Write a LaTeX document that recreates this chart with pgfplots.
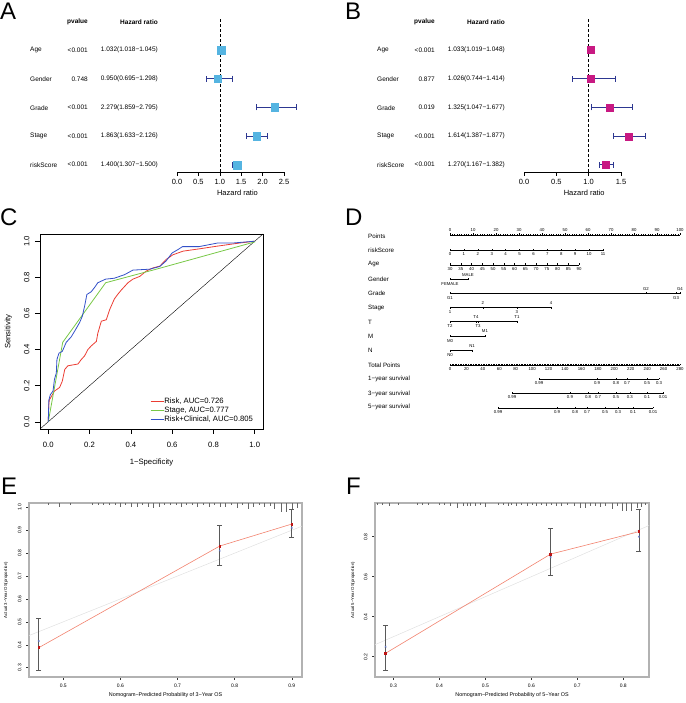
\documentclass[border=0pt]{standalone}
\usepackage{fontspec}
\setmainfont{Liberation Sans}
\usepackage{pgfplots}
\pgfplotsset{compat=1.18}

\definecolor{hrblue}{RGB}{85,180,225}
\definecolor{navy}{RGB}{45,55,145}
\definecolor{hrmag}{RGB}{200,25,130}
\definecolor{rocred}{RGB}{235,60,50}
\definecolor{rocgreen}{RGB}{120,200,70}
\definecolor{rocblue}{RGB}{50,80,200}
\definecolor{calred}{RGB}{242,130,110}
\definecolor{ptred}{RGB}{190,20,20}
\definecolor{ptblue}{RGB}{100,120,200}

\newcommand{\fs}[1]{\fontsize{#1}{#1}\selectfont}
\tikzset{numfmt/.style={/pgf/number format/.cd, fixed, fixed zerofill, precision=1, assume math mode=true, /tikz/.cd}}

\pgfplotsset{
  forest/.style={scale only axis, anchor=south west, clip=false, height=154pt, ymin=0.757, ymax=6.11,
    axis x line*=bottom, hide y axis, x axis line style={-, line width=0.5pt},
    tick align=outside, major tick length=4pt, tick style={black, line width=0.5pt},
    xticklabel style={font=\fs{7.5}, numfmt}, xlabel style={font=\fs{7.5}, anchor=center, yshift=-21pt}},
  nomo/.style={scale only axis, anchor=south west, height=1pt, ymin=0, ymax=1, hide y axis,
    axis x line*=bottom, x axis line style={-, line width=0.4pt}, tick align=inside,
    major tick length=1.6pt, minor tick length=0.9pt, tick style={black, line width=0.3pt},
    xticklabel style={font=\fs{4.3}, inner sep=0.6pt, yshift=-1.5pt, /pgf/number format/assume math mode=true}},
  calib/.style={scale only axis, anchor=south west, tick align=outside, xtick pos=bottom, ytick pos=left,
    major tick length=3pt, tick style={black!80, line width=0.4pt}, axis line style={black!30, line width=1.1pt},
    ticklabel style={font=\fs{5}, numfmt}, yticklabel style={xshift=-1pt, rotate=90, anchor=south},
    xlabel style={font=\fs{5.4}, anchor=center}, ylabel style={font=\fs{4.3}, anchor=center}},
  rug/.style={draw=none, mark=none, forget plot, error bars/.cd, y dir=minus, y explicit, error mark=none,
    error bar style={draw=black!60, line width=0.4pt}},
  obs/.style={calred, line width=0.6pt, mark=square*, mark size=0.9pt, mark options={ptred},
    error bars/.cd, y dir=both, y explicit, error mark=|,
    error bar style={draw=black!65, line width=0.6pt}, error mark options={draw=black!65, line width=0.6pt, mark size=2.5pt}},
}

\begin{document}
\begin{tikzpicture}
\path[use as bounding box] (0pt,0pt) rectangle (685pt,703pt);

% ---------------- A ----------------
\node[anchor=base west, font=\fs{24}, inner sep=0pt] at (0pt,683pt) {A};
\begin{scope}[every node/.style={font=\fs{6.5}, inner sep=0pt}]
\node[anchor=east, font=\fs{6.5}\bfseries] at (88pt,681pt) {pvalue};
\node[anchor=east, font=\fs{6.5}\bfseries] at (158pt,681pt) {Hazard ratio};
\node[anchor=west] at (30pt,653pt) {Age};       \node[anchor=east] at (88pt,653pt) {<0.001}; \node[anchor=east] at (158pt,653pt) {1.032(1.018−1.045)};
\node[anchor=west] at (30pt,624pt) {Gender};    \node[anchor=east] at (88pt,624pt) {0.748};  \node[anchor=east] at (158pt,624pt) {0.950(0.695−1.298)};
\node[anchor=west] at (30pt,595.3pt) {Grade};   \node[anchor=east] at (88pt,595.3pt) {<0.001}; \node[anchor=east] at (158pt,595.3pt) {2.279(1.859−2.795)};
\node[anchor=west] at (30pt,567pt) {Stage};     \node[anchor=east] at (88pt,567pt) {<0.001}; \node[anchor=east] at (158pt,567pt) {1.863(1.633−2.126)};
\node[anchor=west] at (30pt,538.3pt) {riskScore}; \node[anchor=east] at (88pt,538.3pt) {<0.001}; \node[anchor=east] at (158pt,538.3pt) {1.400(1.307−1.500)};
\end{scope}
\begin{axis}[forest, at={(177pt,531pt)}, width=107pt, xmin=0, xmax=2.5, xtick={0,0.5,1,1.5,2,2.5},
  xlabel={Hazard ratio}, xlabel style={at={(axis description cs:0.565,0)}}]
\addplot[black, line width=0.6pt, dash pattern=on 3pt off 2pt] coordinates {(1,0.757)(1,6.11)};
\addplot[only marks, mark=square*, mark size=3.8pt, color=hrblue,
  error bars/.cd, x dir=both, x explicit, error mark=|,
  error bar style={draw=navy, line width=1pt}, error mark options={draw=navy, line width=1pt, mark size=3pt}]
  coordinates {
  (1.032,5) += (0.013,0) -= (0.014,0)
  (0.950,4) += (0.348,0) -= (0.255,0)
  (2.279,3) += (0.516,0) -= (0.420,0)
  (1.863,2) += (0.263,0) -= (0.230,0)
  (1.400,1) += (0.100,0) -= (0.093,0)
  };
\end{axis}

% ---------------- B ----------------
\node[anchor=base west, font=\fs{24}, inner sep=0pt] at (345pt,683pt) {B};
\begin{scope}[every node/.style={font=\fs{6.5}, inner sep=0pt}]
\node[anchor=east, font=\fs{6.5}\bfseries] at (435pt,681pt) {pvalue};
\node[anchor=east, font=\fs{6.5}\bfseries] at (505pt,681pt) {Hazard ratio};
\node[anchor=west] at (377pt,653pt) {Age};       \node[anchor=east] at (435pt,653pt) {<0.001}; \node[anchor=east] at (505pt,653pt) {1.033(1.019−1.048)};
\node[anchor=west] at (377pt,624pt) {Gender};    \node[anchor=east] at (435pt,624pt) {0.877};  \node[anchor=east] at (505pt,624pt) {1.026(0.744−1.414)};
\node[anchor=west] at (377pt,595.3pt) {Grade};   \node[anchor=east] at (435pt,595.3pt) {0.019};  \node[anchor=east] at (505pt,595.3pt) {1.325(1.047−1.677)};
\node[anchor=west] at (377pt,567pt) {Stage};     \node[anchor=east] at (435pt,567pt) {<0.001}; \node[anchor=east] at (505pt,567pt) {1.614(1.387−1.877)};
\node[anchor=west] at (377pt,538.3pt) {riskScore}; \node[anchor=east] at (435pt,538.3pt) {<0.001}; \node[anchor=east] at (505pt,538.3pt) {1.270(1.167−1.382)};
\end{scope}
\begin{axis}[forest, at={(524pt,531pt)}, width=97pt, xmin=0, xmax=1.5, xtick={0,0.5,1,1.5},
  xlabel={Hazard ratio}, xlabel style={at={(axis description cs:0.621,0)}}]
\addplot[black, line width=0.6pt, dash pattern=on 3pt off 2pt] coordinates {(1,0.757)(1,6.11)};
\addplot[only marks, mark=square*, mark size=3.5pt, color=hrmag,
  error bars/.cd, x dir=both, x explicit, error mark=|,
  error bar style={draw=navy, line width=1pt}, error mark options={draw=navy, line width=1pt, mark size=3pt}]
  coordinates {
  (1.033,5) += (0.015,0) -= (0.014,0)
  (1.026,4) += (0.388,0) -= (0.282,0)
  (1.325,3) += (0.352,0) -= (0.278,0)
  (1.614,2) += (0.263,0) -= (0.227,0)
  (1.270,1) += (0.112,0) -= (0.103,0)
  };
\end{axis}

% ---------------- C ----------------
\node[anchor=base west, font=\fs{24}, inner sep=0pt] at (0pt,477pt) {C};
\begin{axis}[at={(40pt,274pt)}, anchor=south west, scale only axis, width=223pt, height=195pt,
  xmin=-0.04, xmax=1.04, ymin=-0.04, ymax=1.04,
  xtick={0,0.2,0.4,0.6,0.8,1}, ytick={0,0.2,0.4,0.6,0.8,1},
  tick align=outside, xtick pos=bottom, ytick pos=left, major tick length=5pt,
  tick style={black, line width=0.5pt}, axis line style={line width=0.6pt},
  ticklabel style={font=\fs{7.7}, numfmt}, xticklabel style={yshift=-5pt},
  yticklabel style={xshift=-2pt, rotate=90, anchor=south},
  xlabel={1−Specificity}, ylabel={Sensitivity},
  xlabel style={font=\fs{7.7}, at={(axis description cs:0.5,-0.174)}, anchor=center},
  ylabel style={font=\fs{7.7}, at={(axis description cs:-0.142,0.5)}, anchor=center},
  legend style={draw=none, fill=none, at={(axis description cs:0.493,0.165)}, anchor=north west,
    font=\fs{7.7}, row sep=1pt, inner sep=0pt, nodes={inner sep=0.5pt, text height=5.6pt, text depth=1.5pt}},
  legend cell align=left,
  legend image code/.code={\draw[#1] (0pt,0pt) -- (13pt,0pt);}]
\addlegendimage{rocred, line width=0.8pt}
\addlegendentry{Risk, AUC=0.726}
\addlegendimage{rocgreen, line width=0.8pt}
\addlegendentry{Stage, AUC=0.777}
\addlegendimage{rocblue, line width=0.8pt}
\addlegendentry{Risk+Clinical, AUC=0.805}
\addplot[black, line width=0.4pt, forget plot] coordinates {(-0.04,-0.04)(1.04,1.04)};
\addplot[rocred, line width=0.8pt, forget plot] coordinates {
(0,0)(0.002,0.087)(0.005,0.12)(0.015,0.14)(0.03,0.17)(0.055,0.19)(0.068,0.225)(0.08,0.29)
(0.095,0.31)(0.144,0.32)(0.16,0.345)(0.176,0.365)(0.192,0.40)(0.208,0.42)(0.233,0.445)
(0.24,0.49)(0.257,0.557)(0.281,0.565)(0.297,0.62)(0.32,0.68)(0.336,0.705)(0.354,0.73)
(0.386,0.77)(0.41,0.79)(0.443,0.805)(0.475,0.835)(0.507,0.852)(0.54,0.862)(0.572,0.90)
(0.604,0.925)(0.653,0.945)(0.733,0.958)(0.814,0.972)(0.927,0.99)(1,1)};
\addplot[rocgreen, line width=0.8pt, forget plot] coordinates {
(0,0)(0.07,0.44)(0.278,0.77)(0.523,0.845)(1,0.996)(1,1)};
\addplot[rocblue, line width=0.8pt, forget plot] coordinates {
(0,0)(0.003,0.12)(0.01,0.15)(0.023,0.17)(0.03,0.235)(0.039,0.27)(0.042,0.345)(0.052,0.38)
(0.068,0.39)(0.087,0.44)(0.111,0.47)(0.132,0.51)(0.152,0.55)(0.165,0.585)(0.176,0.64)
(0.187,0.705)(0.208,0.72)(0.225,0.745)(0.24,0.77)(0.278,0.79)(0.32,0.795)(0.37,0.815)
(0.41,0.84)(0.49,0.845)(0.54,0.86)(0.57,0.89)(0.60,0.935)(0.63,0.955)(0.65,0.97)
(0.73,0.97)(0.82,0.99)(0.895,0.99)(1,1)};
\end{axis}

% ---------------- D ----------------
\node[anchor=base west, font=\fs{24}, inner sep=0pt] at (345pt,477pt) {D};
% Points
\begin{axis}[nomo, anchor=north west, at={(450pt,468pt)}, width=230pt, xmin=0, xmax=100,
  axis x line*=top, tick align=outside, xtick={0,10,...,100}, minor x tick num=9,
  xticklabel style={yshift=3pt}]
\end{axis}
% riskScore
\begin{axis}[nomo, at={(450pt,452.3pt)}, width=153pt, xmin=0, xmax=11, xtick={0,1,...,11}]
\end{axis}
% Age
\begin{axis}[nomo, at={(450pt,438pt)}, width=129pt, xmin=30, xmax=90, xtick={30,35,...,90}]
\end{axis}
% Total Points
\begin{axis}[nomo, at={(450pt,337.7pt)}, width=230pt, xmin=0, xmax=280, xtick={0,20,...,280}, minor x tick num=9]
\end{axis}
% survival scales (positions in total points)
\begin{axis}[nomo, at={(539pt,323.7pt)}, width=120pt, xmin=108.3, xmax=254.4,
  xtick={108.3,179,202,215.5,239.8,254.4}, xticklabels={0.99,0.9,0.8,0.7,0.5,0.3}]
\end{axis}
\begin{axis}[nomo, at={(512pt,309.3pt)}, width=151pt, xmin=75.5, xmax=259.3,
  xtick={75.5,146,168,180.2,202,219,239.8,259.3}, xticklabels={0.99,0.9,0.8,0.7,0.5,0.3,0.1,0.01}]
\end{axis}
\begin{axis}[nomo, at={(498pt,294.7pt)}, width=155pt, xmin=58.4, xmax=247.1,
  xtick={58.4,130.3,152.2,166.8,188.7,204.5,222.8,247.1}, xticklabels={0.99,0.9,0.8,0.7,0.5,0.3,0.1,0.01}]
\end{axis}
% categorical rows and row names (x in points)
\begin{axis}[at={(450pt,288pt)}, anchor=south west, scale only axis, width=230pt, height=190pt,
  xmin=0, xmax=100, ymin=225, ymax=415, y dir=reverse, hide axis, clip=false]
\addplot[black, line width=0.4pt, mark=|, mark size=0.9pt] coordinates {(0,279.3)(7.8,279.3)};
\addplot[black, line width=0.4pt, mark=|, mark size=0.9pt] coordinates {(0,293.3)(85.2,293.3)(98.3,293.3)(100,293.3)};
\addplot[black, line width=0.4pt, mark=|, mark size=0.9pt] coordinates {(0,307.7)(14.3,307.7)(29.1,307.7)(43.9,307.7)};
\addplot[black, line width=0.4pt, mark=|, mark size=0.9pt] coordinates {(0,321.7)(11.3,321.7)(12.2,321.7)(29.1,321.7)};
\addplot[black, line width=0.4pt, mark=|, mark size=0.9pt] coordinates {(0,336)(15.2,336)};
\addplot[black, line width=0.4pt, mark=|, mark size=0.9pt] coordinates {(0,350.7)(9.6,350.7)};
\begin{scope}[every node/.style={font=\fs{4.3}, inner sep=0pt}]
\node at (axis cs:7.8,274.6) {MALE};   \node at (axis cs:0,284.3) {FEMALE};
\node at (axis cs:85.2,288.7) {G2};    \node at (axis cs:100,288.7) {G4};
\node at (axis cs:0,298.3) {G1};       \node at (axis cs:98.3,298.3) {G3};
\node at (axis cs:14.3,303) {2};       \node at (axis cs:43.9,303) {4};
\node at (axis cs:0,312.5) {1};        \node at (axis cs:29.1,312.5) {3};
\node at (axis cs:11.3,317) {T4};      \node at (axis cs:29.1,317) {T1};
\node at (axis cs:0,326.5) {T2};       \node at (axis cs:12.2,326.5) {T3};
\node at (axis cs:15.2,331.3) {M1};    \node at (axis cs:0,340.8) {M0};
\node at (axis cs:9.6,346) {N1};       \node at (axis cs:0,355.5) {N0};
\end{scope}
\begin{scope}[every node/.style={font=\fs{6.2}, inner sep=0pt, anchor=west}]
\node at (axis cs:-35.65,236) {Points};
\node at (axis cs:-35.65,250.7) {riskScore};
\node at (axis cs:-35.65,264.3) {Age};
\node at (axis cs:-35.65,279) {Gender};
\node at (axis cs:-35.65,293.7) {Grade};
\node at (axis cs:-35.65,307.7) {Stage};
\node at (axis cs:-35.65,322) {T};
\node at (axis cs:-35.65,336) {M};
\node at (axis cs:-35.65,350.7) {N};
\node at (axis cs:-35.65,365.3) {Total Points};
\node at (axis cs:-35.65,379.3) {1−year survival};
\node at (axis cs:-35.65,393.7) {3−year survival};
\node at (axis cs:-35.65,407.3) {5−year survival};
\end{scope}
\end{axis}

% ---------------- E ----------------
\node[anchor=base west, font=\fs{24}, inner sep=0pt] at (1pt,208pt) {E};
\begin{axis}[calib, at={(29pt,26pt)}, width=273pt, height=174pt,
  xmin=0.44, xmax=0.918, ymin=0.259, ymax=1.019,
  xtick={0.5,0.6,0.7,0.8,0.9}, ytick={0.3,0.4,0.5,0.6,0.7,0.8,0.9,1.0},
  xlabel={Nomogram−Predicted Probability of 3−Year OS}, ylabel={Actual 3−Year OS(proportion)},
  xlabel style={at={(axis description cs:0.5,-0.103)}}, ylabel style={at={(axis description cs:-0.084,0.5)}}]
\addplot[black!12, line width=0.5pt] coordinates {(0.44,0.44)(0.918,0.918)};
\addplot[rug] coordinates {
(0.474,1.019) -= (0,0.009) (0.493,1.019) -= (0,0.017) (0.512,1.019) -= (0,0.009)
(0.551,1.019) -= (0,0.009) (0.561,1.019) -= (0,0.009) (0.570,1.019) -= (0,0.009)
(0.580,1.019) -= (0,0.009) (0.591,1.019) -= (0,0.009) (0.599,1.019) -= (0,0.017)
(0.609,1.019) -= (0,0.009) (0.619,1.019) -= (0,0.017) (0.629,1.019) -= (0,0.017)
(0.639,1.019) -= (0,0.009) (0.648,1.019) -= (0,0.017) (0.658,1.019) -= (0,0.020)
(0.668,1.019) -= (0,0.017) (0.676,1.019) -= (0,0.009) (0.687,1.019) -= (0,0.009)
(0.697,1.019) -= (0,0.009) (0.706,1.019) -= (0,0.017) (0.716,1.019) -= (0,0.009)
(0.726,1.019) -= (0,0.009) (0.735,1.019) -= (0,0.016) (0.745,1.019) -= (0,0.009)
(0.755,1.019) -= (0,0.017) (0.764,1.019) -= (0,0.009) (0.774,1.019) -= (0,0.019)
(0.784,1.019) -= (0,0.017) (0.794,1.019) -= (0,0.009) (0.804,1.019) -= (0,0.020)
(0.813,1.019) -= (0,0.009) (0.823,1.019) -= (0,0.025) (0.833,1.019) -= (0,0.017)
(0.843,1.019) -= (0,0.009) (0.852,1.019) -= (0,0.017) (0.862,1.019) -= (0,0.012)
(0.870,1.019) -= (0,0.026) (0.881,1.019) -= (0,0.039) (0.891,1.019) -= (0,0.040)
(0.901,1.019) -= (0,0.031) (0.909,1.019) -= (0,0.020)};
\addplot[obs] coordinates {
  (0.457,0.387) += (0,0.128) -= (0,0.097)
  (0.774,0.831) += (0,0.092) -= (0,0.084)
  (0.900,0.927) += (0,0.064) -= (0,0.059)};
\addplot[only marks, mark=x, mark size=1.1pt, ptblue, line width=0.5pt]
  coordinates {(0.457,0.416)(0.774,0.811)(0.900,0.911)};
\node[anchor=north west, align=left, font=\fs{3.8}, inner sep=0pt] at (axis description cs:0,-0.105)
  {n=246 d=92 p=12, 75 subjects per group\\Gray: ideal};
\node[anchor=north east, align=right, font=\fs{3.8}, inner sep=0pt] at (axis description cs:1,-0.105)
  {X − resampling optimism added, B=1000\\Based on observed−predicted};
\end{axis}

% ---------------- F ----------------
\node[anchor=base west, font=\fs{24}, inner sep=0pt] at (346pt,208pt) {F};
\begin{axis}[calib, at={(375pt,26pt)}, width=274pt, height=174pt,
  xmin=0.26, xmax=0.856, ymin=0.0985, ymax=0.9685,
  xtick={0.3,0.4,0.5,0.6,0.7,0.8}, ytick={0.2,0.4,0.6,0.8},
  xlabel={Nomogram−Predicted Probability of 5−Year OS}, ylabel={Actual 5−Year OS(proportion)},
  xlabel style={at={(axis description cs:0.5,-0.103)}}, ylabel style={at={(axis description cs:-0.080,0.5)}}]
\addplot[black!12, line width=0.5pt] coordinates {(0.26,0.26)(0.856,0.856)};
\addplot[rug] coordinates {
(0.264,0.9685) -= (0,0.010) (0.275,0.9685) -= (0,0.010) (0.291,0.9685) -= (0,0.015)
(0.311,0.9685) -= (0,0.010) (0.351,0.9685) -= (0,0.010) (0.362,0.9685) -= (0,0.010)
(0.376,0.9685) -= (0,0.010) (0.399,0.9685) -= (0,0.010) (0.410,0.9685) -= (0,0.010)
(0.423,0.9685) -= (0,0.015) (0.439,0.9685) -= (0,0.025) (0.451,0.9685) -= (0,0.015)
(0.460,0.9685) -= (0,0.015) (0.467,0.9685) -= (0,0.015) (0.479,0.9685) -= (0,0.015)
(0.488,0.9685) -= (0,0.010) (0.499,0.9685) -= (0,0.020) (0.528,0.9685) -= (0,0.010)
(0.539,0.9685) -= (0,0.010) (0.549,0.9685) -= (0,0.015) (0.557,0.9685) -= (0,0.010)
(0.568,0.9685) -= (0,0.015) (0.579,0.9685) -= (0,0.010) (0.590,0.9685) -= (0,0.015)
(0.601,0.9685) -= (0,0.010) (0.610,0.9685) -= (0,0.015) (0.621,0.9685) -= (0,0.010)
(0.633,0.9685) -= (0,0.015) (0.644,0.9685) -= (0,0.010) (0.655,0.9685) -= (0,0.015)
(0.666,0.9685) -= (0,0.015) (0.677,0.9685) -= (0,0.010) (0.693,0.9685) -= (0,0.015)
(0.706,0.9685) -= (0,0.025) (0.717,0.9685) -= (0,0.025) (0.728,0.9685) -= (0,0.015)
(0.739,0.9685) -= (0,0.015) (0.749,0.9685) -= (0,0.020) (0.760,0.9685) -= (0,0.015)
(0.775,0.9685) -= (0,0.028) (0.787,0.9685) -= (0,0.015) (0.797,0.9685) -= (0,0.040)
(0.807,0.9685) -= (0,0.040) (0.818,0.9685) -= (0,0.040) (0.831,0.9685) -= (0,0.025)
(0.840,0.9685) -= (0,0.020) (0.847,0.9685) -= (0,0.010)};
\addplot[obs] coordinates {
  (0.283,0.217) += (0,0.138) -= (0,0.084)
  (0.642,0.713) += (0,0.129) -= (0,0.108)
  (0.834,0.825) += (0,0.112) -= (0,0.097)};
\addplot[only marks, mark=x, mark size=1.1pt, ptblue, line width=0.5pt]
  coordinates {(0.283,0.250)(0.642,0.697)(0.834,0.800)};
\node[anchor=north west, align=left, font=\fs{3.8}, inner sep=0pt] at (axis description cs:0,-0.105)
  {n=246 d=92 p=12, 75 subjects per group\\Gray: ideal};
\node[anchor=north east, align=right, font=\fs{3.8}, inner sep=0pt] at (axis description cs:1,-0.105)
  {X − resampling optimism added, B=1000\\Based on observed−predicted};
\end{axis}
\end{tikzpicture}
\end{document}
